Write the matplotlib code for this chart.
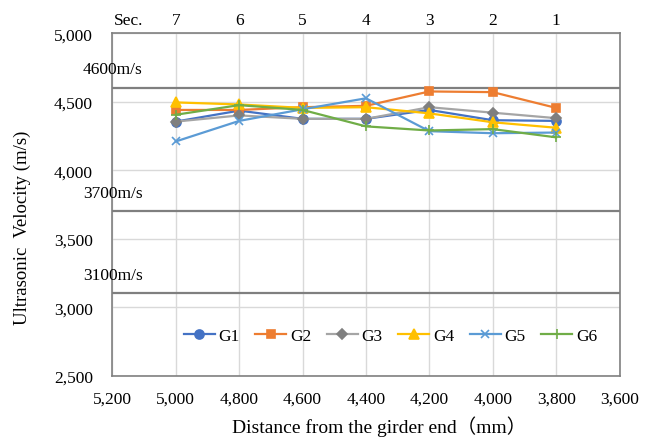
import matplotlib
matplotlib.use('Agg')
import matplotlib.pyplot as plt
from matplotlib.ticker import FuncFormatter, MultipleLocator
import matplotlib.transforms as mtransforms

plt.rcParams['font.family'] = ['Liberation Serif', 'Noto Sans CJK JP']
plt.rcParams['font.size'] = 12.5

# 数据
distance = [5000, 4800, 4600, 4400, 4200, 4000, 3800]
sections = ['7', '6', '5', '4', '3', '2', '1']
G1 = [4355, 4435, 4375, 4375, 4440, 4365, 4360]
G2 = [4440, 4440, 4460, 4470, 4575, 4570, 4455]
G3 = [4355, 4400, 4375, 4375, 4460, 4420, 4380]
G4 = [4495, 4480, 4455, 4460, 4415, 4350, 4310]
G5 = [4210, 4360, 4445, 4525, 4285, 4270, 4275]
G6 = [4405, 4475, 4440, 4320, 4290, 4300, 4240]
ref_lines = [4600, 3700, 3100]
ref_labels = ['4600m/s', '3700m/s', '3100m/s']

series = [
    ('G1', G1, '#4472C4', '#4472C4', 'o', 6.5),
    ('G2', G2, '#ED7D31', '#ED7D31', 's', 6),
    ('G3', G3, '#A5A5A5', '#7F7F7F', 'D', 5),
    ('G4', G4, '#FFC000', '#FFC000', '^', 6.5),
    ('G5', G5, '#5B9BD5', '#5B9BD5', 'x', 6),
    ('G6', G6, '#70AD47', '#70AD47', '+', 7),
]

fig = plt.figure(figsize=(6.46, 4.39), dpi=100)
ax = fig.add_axes([0.174, 0.142, 0.785, 0.78])

# 参考线
for v, lab in zip(ref_lines, ref_labels):
    ax.axhline(v, color='#7F7F7F', lw=1.6, zorder=2)
    ax.annotate(lab, xy=(-0.058, v), xycoords=ax.get_yaxis_transform(),
                xytext=(0, 13.5), textcoords='offset points',
                ha='left', va='center', fontsize=12.5, annotation_clip=False)

for name, vals, lc, mc, mk, ms in series:
    ax.plot(distance, vals, color=lc, lw=1.6, marker=mk, markersize=ms,
            markerfacecolor=mc, markeredgecolor=mc, markeredgewidth=1.2,
            label=name, zorder=3)

ax.set_xlim(5200, 3600)
ax.set_ylim(2500, 5000)
ax.xaxis.set_major_locator(MultipleLocator(200))
ax.yaxis.set_major_locator(MultipleLocator(500))
fmt = FuncFormatter(lambda v, p: f'{int(v):,}')
ax.xaxis.set_major_formatter(fmt)
ax.yaxis.set_major_formatter(fmt)
ax.tick_params(axis='x', length=0, pad=11)
ax.tick_params(axis='y', length=0, pad=14)
ax.grid(True, color='#D9D9D9', lw=1, zorder=0)
ax.set_axisbelow(True)
for s in ax.spines.values():
    s.set_color('#808080')
    s.set_linewidth(1.2)

# 顶部 Sec. 编号
trans = mtransforms.blended_transform_factory(ax.transData, ax.transAxes)
for d, s in zip(distance, sections):
    ax.text(d, 1.038, s, transform=trans, ha='center', va='center')
ax.text(0.002, 1.038, 'Sec.', transform=ax.transAxes, ha='left', va='center')

ax.set_xlabel('Distance from the girder end（mm）', fontsize=14)
ax.xaxis.set_label_coords(0.526, -0.147)
ax.xaxis.label.set_va('center')
ax.set_ylabel('Ultrasonic  Velocity (m/s)', fontsize=13.5)
ax.yaxis.set_label_coords(-0.178, 0.435)
ax.yaxis.label.set_va('center')

ax.legend(loc='center', bbox_to_anchor=(0.548, 0.116), ncol=6, frameon=False,
          handlelength=1.8, handletextpad=0.2, columnspacing=0.9)

fig.savefig('out.png', dpi=100)
